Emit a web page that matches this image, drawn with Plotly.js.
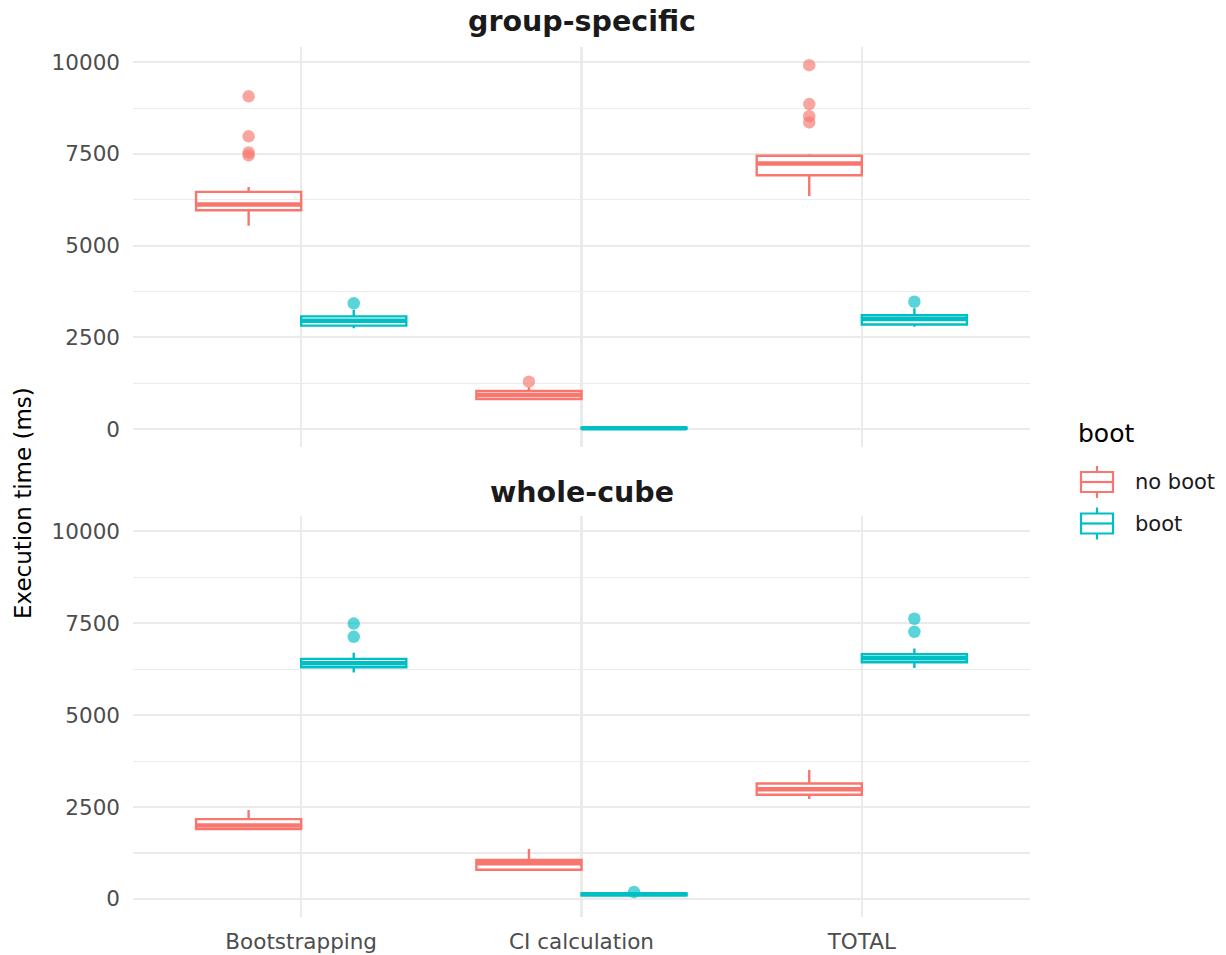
<!DOCTYPE html>
<html>
<head>
<meta charset="utf-8">
<script src="https://cdn.plot.ly/plotly-3.0.1.min.js"></script>
<style>
  html, body { margin: 0; padding: 0; background: #ffffff; }
  #chart { width: 1226px; height: 955px; }
</style>
</head>
<body>
<div id="chart"></div>
<script>
// Execution time of bootstrapping vs. no bootstrapping, per step and per mode
const categories = ["Bootstrapping", "CI calculation", "TOTAL"];
const groups = ["no boot", "boot"];
const panels = ["group-specific", "whole-cube"];
const colors = ["#F8766D", "#00BFC4"];

// group-specific, no boot
const gsNoBootLower  = [5540, 790, 6350];
const gsNoBootQ1     = [5965, 820, 6920];
const gsNoBootMedian = [6120, 930, 7240];
const gsNoBootQ3     = [6465, 1035, 7450];
const gsNoBootUpper  = [6600, 1130, 7490];
const gsNoBootOutCat = ["Bootstrapping", "Bootstrapping", "Bootstrapping", "Bootstrapping",
                        "CI calculation", "TOTAL", "TOTAL", "TOTAL", "TOTAL"];
const gsNoBootOutVal = [9070, 7980, 7540, 7460, 1290, 9920, 8860, 8530, 8360];

// group-specific, boot
const gsBootLower  = [2750, 5, 2790];
const gsBootQ1     = [2820, 10, 2850];
const gsBootMedian = [2950, 20, 3000];
const gsBootQ3     = [3070, 35, 3100];
const gsBootUpper  = [3250, 50, 3290];
const gsBootOutCat = ["Bootstrapping", "TOTAL"];
const gsBootOutVal = [3430, 3470];

// whole-cube, no boot
const wcNoBootLower  = [1880, 785, 2720];
const wcNoBootQ1     = [1900, 795, 2835];
const wcNoBootMedian = [2000, 970, 2985];
const wcNoBootQ3     = [2170, 1060, 3140];
const wcNoBootUpper  = [2420, 1360, 3505];
const wcNoBootOutCat = [];
const wcNoBootOutVal = [];

// whole-cube, boot
const wcBootLower  = [6160, 90, 6285];
const wcBootQ1     = [6300, 100, 6440];
const wcBootMedian = [6410, 125, 6550];
const wcBootQ3     = [6530, 150, 6655];
const wcBootUpper  = [6695, 170, 6810];
const wcBootOutCat = ["Bootstrapping", "Bootstrapping", "CI calculation", "TOTAL", "TOTAL"];
const wcBootOutVal = [7490, 7130, 190, 7620, 7265];

const stats = [
  [ // group-specific
    {lower: gsNoBootLower, q1: gsNoBootQ1, median: gsNoBootMedian, q3: gsNoBootQ3, upper: gsNoBootUpper, outCat: gsNoBootOutCat, outVal: gsNoBootOutVal},
    {lower: gsBootLower, q1: gsBootQ1, median: gsBootMedian, q3: gsBootQ3, upper: gsBootUpper, outCat: gsBootOutCat, outVal: gsBootOutVal}
  ],
  [ // whole-cube
    {lower: wcNoBootLower, q1: wcNoBootQ1, median: wcNoBootMedian, q3: wcNoBootQ3, upper: wcNoBootUpper, outCat: wcNoBootOutCat, outVal: wcNoBootOutVal},
    {lower: wcBootLower, q1: wcBootQ1, median: wcBootMedian, q3: wcBootQ3, upper: wcBootUpper, outCat: wcBootOutCat, outVal: wcBootOutVal}
  ]
];

// dodge: two boxes per category, each 0.375 wide
const dodge = 0.75;
const boxWidth = dodge / 2;
function pos(cat, gi) {
  return categories.indexOf(cat) + 1 + (gi - 0.5) * boxWidth;
}

const traces = [];
let yMin = Infinity, yMax = -Infinity;
stats.forEach((panel, pi) => {
  const xa = pi === 0 ? "x2" : "x";
  const ya = pi === 0 ? "y2" : "y";
  panel.forEach((s, gi) => {
    const xs = categories.map(c => pos(c, gi));
    yMin = Math.min(yMin, ...s.lower, ...s.outVal);
    yMax = Math.max(yMax, ...s.upper, ...s.outVal);
    traces.push({
      type: "box",
      name: groups[gi],
      showlegend: false,
      x: xs,
      q1: s.q1, median: s.median, q3: s.q3,
      lowerfence: s.lower, upperfence: s.upper,
      width: boxWidth,
      whiskerwidth: 0,
      boxpoints: false,
      line: {color: colors[gi], width: 2.4},
      fillcolor: "rgba(255,255,255,0)",
      xaxis: xa, yaxis: ya,
      hoverinfo: "skip"
    });
    // thicker median bar
    const mx = [], my = [];
    xs.forEach((x, i) => {
      mx.push(x - boxWidth / 2, x + boxWidth / 2, null);
      my.push(s.median[i], s.median[i], null);
    });
    traces.push({
      type: "scatter", mode: "lines",
      x: mx, y: my,
      line: {color: colors[gi], width: 4.5},
      showlegend: false, hoverinfo: "skip",
      xaxis: xa, yaxis: ya
    });
    // outliers
    traces.push({
      type: "scatter", mode: "markers",
      x: s.outCat.map(c => pos(c, gi)), y: s.outVal,
      marker: {color: colors[gi], size: 12.5, opacity: 0.65, line: {width: 0}},
      showlegend: false, hoverinfo: "skip",
      xaxis: xa, yaxis: ya
    });
  });
});

const pad = 0.05 * (yMax - yMin);
const yRange = [yMin - pad, yMax + pad];

const tickFont = {family: "DejaVu Sans, sans-serif", size: 21.5, color: "#4D4D4D"};
const gridColor = "#EBEBEB";

function yAxis(domain) {
  return {
    domain: domain,
    range: yRange,
    tickmode: "linear", tick0: 0, dtick: 2500,
    tickformat: "d",
    showgrid: true, gridcolor: gridColor, gridwidth: 2.2,
    minor: {dtick: 1250, tick0: 0, showgrid: true, gridcolor: gridColor, gridwidth: 1.1},
    zeroline: false, showline: false, ticks: "",
    ticklabelstandoff: 12,
    tickfont: tickFont,
    fixedrange: true
  };
}
function xAxis(anchor, labels) {
  return {
    anchor: anchor,
    range: [0.4, 3.6],
    tickmode: "array",
    tickvals: categories.map((c, i) => i + 1),
    ticktext: categories,
    showticklabels: labels,
    showgrid: true, gridcolor: gridColor, gridwidth: 2.2,
    zeroline: false, showline: false, ticks: "",
    ticklabelstandoff: 9,
    tickfont: tickFont,
    fixedrange: true
  };
}

// plot area in pixels, for placing the legend key
const M = {l: 133, r: 196, t: 47, b: 38};
const W = 1226, H = 955;
const pw = W - M.l - M.r, ph = H - M.t - M.b;
const px = v => (v - M.l) / pw;
const py = v => (H - M.b - v) / ph;

const shapes = [];
const annotations = [
  {text: "<b>" + panels[0] + "</b>", xref: "paper", yref: "paper", x: 0.5, y: py(22),
   xanchor: "center", yanchor: "middle", showarrow: false,
   font: {size: 28.5, color: "#1A1A1A"}},
  {text: "<b>" + panels[1] + "</b>", xref: "paper", yref: "paper", x: 0.5, y: py(492),
   xanchor: "center", yanchor: "middle", showarrow: false,
   font: {size: 28.5, color: "#1A1A1A"}},
  {text: "Execution time (ms)", xref: "paper", yref: "paper", x: px(23), y: py(503),
   xanchor: "center", yanchor: "middle", textangle: -90, showarrow: false,
   font: {size: 23, color: "#000000"}},
  {text: "boot", xref: "paper", yref: "paper", x: px(1076), y: py(433),
   xanchor: "left", yanchor: "middle", showarrow: false,
   font: {size: 25, color: "#000000"}}
];

// legend key: small boxplot glyph + label for each group
groups.forEach((g, gi) => {
  const cy = 482 + gi * 41.5;
  const x0 = 1081, x1 = 1113, xm = (x0 + x1) / 2;
  const ln = {color: colors[gi], width: 2.2};
  shapes.push({type: "rect", xref: "paper", yref: "paper",
    x0: px(x0), x1: px(x1), y0: py(cy - 10), y1: py(cy + 10),
    line: ln, fillcolor: "#ffffff"});
  shapes.push({type: "line", xref: "paper", yref: "paper",
    x0: px(x0), x1: px(x1), y0: py(cy), y1: py(cy), line: ln});
  shapes.push({type: "line", xref: "paper", yref: "paper",
    x0: px(xm), x1: px(xm), y0: py(cy - 16), y1: py(cy - 10), line: ln});
  shapes.push({type: "line", xref: "paper", yref: "paper",
    x0: px(xm), x1: px(xm), y0: py(cy + 10), y1: py(cy + 16), line: ln});
  annotations.push({text: g, xref: "paper", yref: "paper", x: px(1133), y: py(cy),
    xanchor: "left", yanchor: "middle", showarrow: false,
    font: {size: 21, color: "#1A1A1A"}});
});

const layout = {
  width: W, height: H,
  margin: M,
  paper_bgcolor: "#ffffff",
  plot_bgcolor: "#ffffff",
  font: {family: "DejaVu Sans, sans-serif", color: "#000000"},
  showlegend: false,
  xaxis: xAxis("y", true),
  xaxis2: Object.assign(xAxis("y2", false), {matches: "x"}),
  yaxis: yAxis([0, py(516)]),
  yaxis2: yAxis([py(447), 1]),
  shapes: shapes,
  annotations: annotations
};

Plotly.newPlot("chart", traces, layout, {staticPlot: true, displayModeBar: false});
</script>
</body>
</html>
